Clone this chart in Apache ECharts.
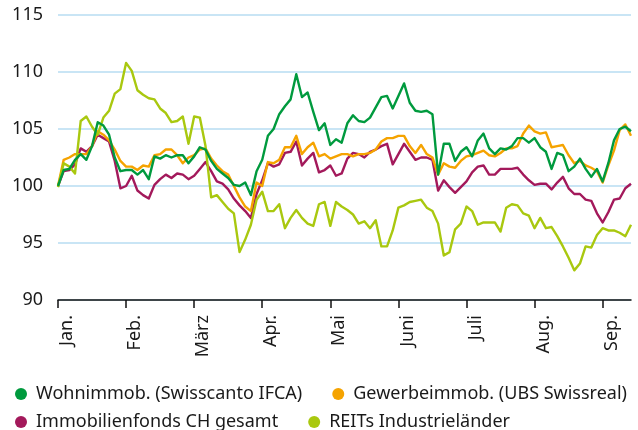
<!DOCTYPE html>
<html>
<head>
<meta charset="utf-8">
<script src="https://cdn.jsdelivr.net/npm/echarts@6/dist/echarts.min.js"></script>
<style>
  html, body { margin: 0; padding: 0; background: #fff; }
  #chart { width: 638px; height: 430px; }
</style>
</head>
<body>
<div id="chart"></div>
<script>
// month names on the x axis, 12 sampled points per month
const monthLabels = ['Jan.', 'Feb.', 'März', 'Apr.', 'Mai', 'Juni', 'Juli', 'Aug.', 'Sep.'];
const pointsPerMonth = 12;

const wohnimmob = [
  100.0, 101.4, 101.5, 102.3, 102.8, 102.3, 103.5, 105.6, 105.3, 104.5, 102.5, 101.3,
  101.4, 101.4, 101.0, 101.4, 100.6, 102.6, 102.4, 102.7, 102.5, 102.7, 102.7, 102.0,
  102.6, 103.4, 103.2, 102.2, 101.5, 101.1, 100.7, 100.1, 100.0, 100.3, 99.2, 101.3,
  102.3, 104.4, 105.0, 106.3, 107.0, 107.6, 109.8, 107.8, 108.2, 106.5, 104.9, 105.5,
  103.6, 104.1, 103.8, 105.5, 106.2, 105.7, 105.6, 106.0, 106.9, 107.8, 107.9, 106.8,
  107.9, 109.0, 107.3, 106.6, 106.5, 106.6, 106.3, 101.0, 103.7, 103.7, 102.2, 103.0,
  103.4, 102.6, 104.0, 104.6, 103.3, 102.8, 103.3, 103.2, 103.5, 104.2, 104.2, 103.8,
  104.2, 103.4, 103.0, 101.5, 102.9, 102.7, 101.3, 101.7, 102.4, 101.5, 100.8, 101.5,
  100.4, 102.0, 104.0, 105.0, 105.2, 104.8
];

const gewerbeimmob = [
  100.0, 102.3, 102.5, 102.8, 102.8, 102.8, 103.5, 104.8, 104.5, 104.0, 103.2, 102.2,
  101.7, 101.7, 101.4, 101.8, 101.7, 102.7, 102.8, 103.2, 103.2, 102.7, 102.0, 102.5,
  102.7, 103.2, 103.3, 102.4, 101.8, 101.3, 101.0, 100.0, 99.0, 98.2, 97.8, 100.3,
  100.0, 102.1, 102.0, 102.3, 103.4, 103.4, 104.4, 102.8, 103.4, 103.8, 102.6, 102.8,
  102.4, 102.6, 102.8, 102.8, 102.6, 102.8, 102.8, 102.9, 103.2, 103.9, 104.2, 104.2,
  104.4, 104.4, 103.5, 102.9, 103.6, 102.8, 102.5, 101.0, 102.0, 101.7, 101.6, 102.2,
  102.6, 102.7, 102.9, 103.1, 102.7, 102.6, 102.9, 103.3, 103.3, 103.5, 104.6, 105.3,
  104.8, 104.6, 104.7, 103.4, 103.5, 103.6, 102.7, 102.0, 102.2, 101.8, 101.6, 101.3,
  100.3, 101.8, 103.1, 104.9, 105.4, 104.4
];

const immobilienfonds = [
  100.0, 101.3, 101.4, 101.9, 103.3, 103.0, 103.5, 104.5, 104.2, 103.9, 102.2, 99.8,
  100.0, 100.9, 99.6, 99.2, 98.9, 100.1, 100.6, 101.0, 100.7, 101.1, 101.0, 100.6,
  100.9, 101.5, 102.1, 101.3, 100.4, 100.2, 99.7, 98.9, 98.3, 97.8, 97.2, 99.3,
  100.5, 102.0, 101.7, 101.9, 102.9, 103.0, 103.9, 101.8, 102.4, 102.9, 101.2, 101.4,
  101.8, 100.9, 101.1, 102.4, 102.9, 102.8, 102.5, 103.0, 103.2, 103.5, 103.7, 101.9,
  102.8, 103.7, 103.0, 102.3, 102.5, 102.5, 102.3, 99.6, 100.5, 99.9, 99.4, 99.9,
  100.4, 101.2, 101.7, 101.8, 101.0, 101.0, 101.5, 101.5, 101.5, 101.6, 101.0, 100.5,
  100.1, 100.2, 100.2, 99.7, 100.3, 100.8, 99.8, 99.3, 99.3, 98.8, 98.7, 97.6,
  96.8, 97.7, 98.8, 98.9, 99.8, 100.2
];

const reits = [
  99.9, 102.0, 101.7, 101.1, 105.7, 106.1, 105.2, 104.5, 106.0, 106.6, 108.1, 108.5,
  110.8, 110.1, 108.4, 108.0, 107.7, 107.6, 106.8, 106.4, 105.6, 105.7, 106.1, 103.7,
  106.1, 106.0, 103.5, 99.0, 99.2, 98.6, 98.0, 97.6, 94.2, 95.3, 96.6, 98.8,
  99.5, 97.8, 97.8, 98.4, 96.3, 97.2, 97.9, 97.2, 96.7, 96.5, 98.4, 98.6,
  96.5, 98.6, 98.2, 97.9, 97.5, 96.7, 96.9, 96.3, 97.0, 94.7, 94.7, 96.1,
  98.1, 98.3, 98.6, 98.7, 98.8, 98.1, 97.8, 96.7, 93.9, 94.2, 96.2, 96.7,
  98.2, 97.8, 96.6, 96.8, 96.8, 96.8, 96.0, 98.1, 98.4, 98.3, 97.6, 97.4,
  96.3, 97.2, 96.3, 96.4, 95.6, 94.7, 93.7, 92.6, 93.2, 94.7, 94.6, 95.7,
  96.3, 96.1, 96.1, 95.9, 95.6, 96.6
];

const categories = wohnimmob.map((v, i) =>
  i % pointsPerMonth === 0 ? monthLabels[i / pointsPerMonth] : ''
);

const FONT = 'Noto Sans';
const TEXT = '#1a1a1a';

function line(name, data, color, z) {
  return {
    name: name,
    type: 'line',
    data: data,
    showSymbol: false,
    symbol: 'none',
    z: z,
    lineStyle: { color: color, width: 2.4, join: 'round' },
    itemStyle: { color: color }
  };
}

const legendBase = {
  left: 10,
  icon: 'circle',
  itemWidth: 20,
  itemHeight: 12,
  itemGap: 30,
  textStyle: { fontFamily: FONT, fontSize: 18, color: TEXT }
};

const chart = echarts.init(document.getElementById('chart'));
chart.setOption({
  animation: false,
  textStyle: { fontFamily: FONT },
  grid: { left: 58, right: 7, top: 15, bottom: 130 },
  legend: [
    Object.assign({}, legendBase, {
      top: 380,
      data: ['Wohnimmob. (Swisscanto IFCA)', 'Gewerbeimmob. (UBS Swissreal)']
    }),
    Object.assign({}, legendBase, {
      top: 408,
      data: ['Immobilienfonds CH gesamt', 'REITs Industrieländer']
    })
  ],
  xAxis: {
    type: 'category',
    boundaryGap: false,
    data: categories,
    axisLine: { lineStyle: { color: '#111', width: 1.5 } },
    axisTick: { interval: pointsPerMonth - 1, length: 8, lineStyle: { color: '#111', width: 1.5 } },
    axisLabel: {
      interval: pointsPerMonth - 1,
      rotate: 90,
      margin: 15,
      verticalAlign: 'top',
      fontFamily: FONT,
      fontSize: 18,
      color: TEXT
    }
  },
  yAxis: {
    type: 'value',
    min: 90,
    max: 115,
    interval: 5,
    axisLine: { show: false },
    axisTick: { show: false },
    axisLabel: { margin: 15, fontFamily: FONT, fontSize: 18, color: TEXT },
    splitLine: { lineStyle: { color: '#b7dcf2', width: 1.5 } }
  },
  series: [
    line('Immobilienfonds CH gesamt', immobilienfonds, '#a3195b', 2),
    line('Gewerbeimmob. (UBS Swissreal)', gewerbeimmob, '#f5a300', 3),
    line('REITs Industrieländer', reits, '#a9c80f', 4),
    line('Wohnimmob. (Swisscanto IFCA)', wohnimmob, '#009a3e', 5)
  ]
});
</script>
</body>
</html>
